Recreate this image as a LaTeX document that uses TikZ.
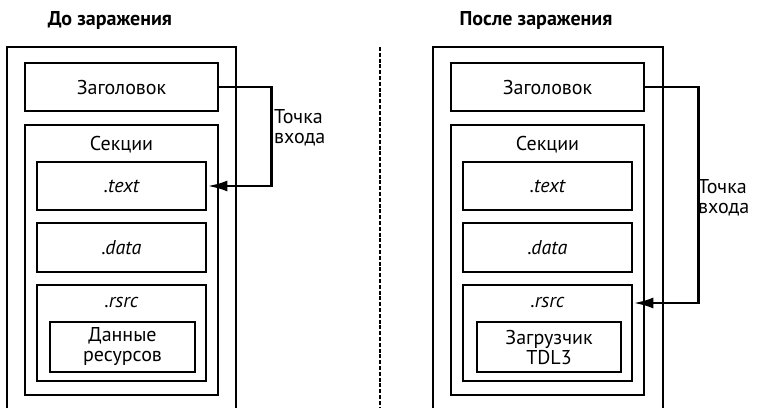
\documentclass[tikz,border=0pt]{standalone}
\usepackage{fontspec}
\setmainfont{PT Sans}
\usetikzlibrary{arrows.meta,positioning}
\tikzset{
  box/.style={draw, line width=2.8pt, inner sep=0pt, align=center},
  frame/.style={line width=2.8pt},
  entry/.style={line width=2.8pt, -{Latex[length=20pt,width=11pt]}},
  heading/.style={font=\fontsize{20}{22}\selectfont\bfseries},
  note/.style={align=left, inner sep=0pt, anchor=west},
}

\begin{document}
\begin{tikzpicture}[x=1pt, y=-1pt, font=\fontsize{20}{20}\selectfont]

  \useasboundingbox (0,0) rectangle (760,408);

  % before
  \node (ttlA) [heading] at (110,20) {До заражения};
  \draw [frame] (7,408) |- (236,47) -- (236,408);

  \node (hdrA) [box, minimum width=193, minimum height=48] at (121.5,87) {Заголовок};
  \node (secA) [box, minimum width=193, minimum height=270] at (121.5,260) {};
  \node (secAlbl) at (121.5,145) {Секции};
  \node (textA) [box, minimum width=169, minimum height=48] at (121.5,186) {\itshape .text};
  \node (dataA) [box, minimum width=169, minimum height=49] at (121.5,247.5) {\itshape .data};
  \node (rsrcA) [box, minimum width=169, minimum height=96] at (121.5,333) {};
  \node (rsrcAlbl) at (121.5,302) {\itshape .rsrc};
  \node (resA) [box, minimum width=145, minimum height=50] at (122.5,347) {Данные\\ресурсов};

  \draw [entry] (hdrA.east) -- ++(52,0) |- (textA.east);
  \node (epA) [note] at (274,128) {Точка\\входа};

  % divider
  \draw [line width=2.5pt, dash pattern=on 4pt off 1.8pt] (380,47) -- (380,408);

  % after
  \node (ttlB) [heading] at (536,20) {После заражения};
  \draw [frame] (433,408) |- (663,47) -- (663,408);

  \node (hdrB) [box, minimum width=193, minimum height=48] at (547.5,87) {Заголовок};
  \node (secB) [box, minimum width=193, minimum height=270] at (547.5,260) {};
  \node (secBlbl) at (547.5,145) {Секции};
  \node (textB) [box, minimum width=169, minimum height=48] at (547.5,186) {\itshape .text};
  \node (dataB) [box, minimum width=169, minimum height=49] at (547.5,247.5) {\itshape .data};
  \node (rsrcB) [box, minimum width=169, minimum height=96] at (547.5,333) {};
  \node (rsrcBlbl) at (547.5,302) {\itshape .rsrc};
  \node (ldrB) [box, minimum width=144, minimum height=50] at (549,347) {Загрузчик\\TDL3};

  \draw [entry] (hdrB.east) -- ++(53,0) |- ([yshift=30pt]rsrcB.east);
  \node (epB) [note] at (698,198) {Точка\\входа};

\end{tikzpicture}
\end{document}
